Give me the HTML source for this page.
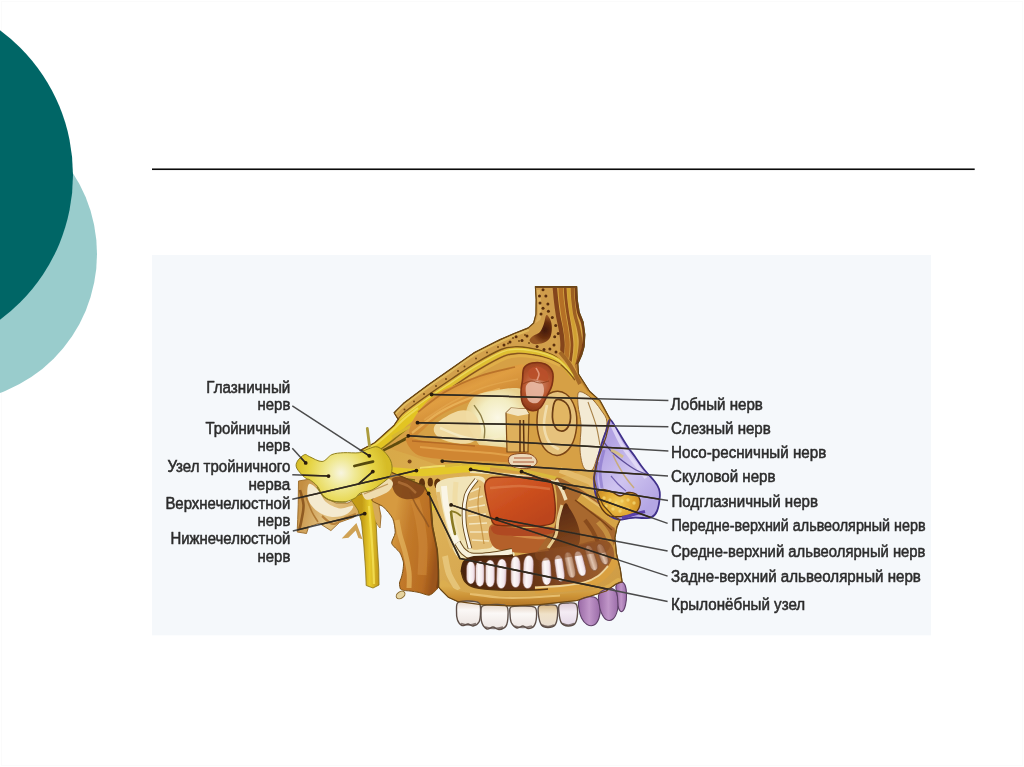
<!DOCTYPE html>
<html lang="ru">
<head>
<meta charset="utf-8">
<title></title>
<style>
html,body{margin:0;padding:0;background:#fff;}
body{width:1024px;height:767px;overflow:hidden;position:relative;font-family:"Liberation Sans",sans-serif;}
.slide{position:absolute;left:0;top:0;width:1024px;height:767px;background:#fff;overflow:hidden;}
.c1{position:absolute;left:-199.7px;top:105.8px;width:296.2px;height:296.2px;border-radius:50%;background:#99cccc;}
.c2{position:absolute;left:-287px;top:-5px;width:360px;height:360px;border-radius:50%;background:#006666;}
.frameline{position:absolute;left:1px;top:1px;right:1px;bottom:1px;border:1px solid #fbfbfb;}
.rule{position:absolute;left:152px;top:168.55px;width:822.6px;height:1.5px;background:#0c0c0c;}
.fig{position:absolute;left:0;top:0;width:1024px;height:767px;}
.fig text{font-family:"Liberation Sans",sans-serif;font-size:16.9px;fill:#2d2d2d;stroke:#2d2d2d;stroke-width:0.55px;stroke-linejoin:round;}
</style>
</head>
<body>
<div class="slide">
<div class="frameline"></div>
<div class="c1"></div>
<div class="c2"></div>
<svg class="fig" viewBox="0 0 1024 767" width="1024" height="767">
<defs>
<linearGradient id="gBone" gradientUnits="userSpaceOnUse" x1="420" y1="340" x2="600" y2="600">
<stop offset="0" stop-color="#d4a23a"/><stop offset="0.5" stop-color="#ddb158"/><stop offset="1" stop-color="#cf9c44"/>
</linearGradient>
<linearGradient id="gPetr" gradientUnits="userSpaceOnUse" x1="298" y1="500" x2="375" y2="520">
<stop offset="0" stop-color="#c48e42"/><stop offset="0.4" stop-color="#e2c282"/><stop offset="1" stop-color="#cf9a48"/>
</linearGradient>
<linearGradient id="gPter" gradientUnits="userSpaceOnUse" x1="392" y1="530" x2="440" y2="538">
<stop offset="0" stop-color="#d69a40"/><stop offset="0.35" stop-color="#c27a2a"/><stop offset="0.8" stop-color="#b86c22"/><stop offset="1" stop-color="#9a541a"/>
</linearGradient>
<linearGradient id="gNerveV" gradientUnits="userSpaceOnUse" x1="362" y1="540" x2="379" y2="540">
<stop offset="0" stop-color="#c49c18"/><stop offset="0.45" stop-color="#e8cc2e"/><stop offset="1" stop-color="#c29818"/>
</linearGradient>
<radialGradient id="gGang" gradientUnits="userSpaceOnUse" cx="341" cy="473" r="46">
<stop offset="0" stop-color="#f8f5e0"/><stop offset="0.3" stop-color="#f0e996"/><stop offset="0.7" stop-color="#e6d444"/><stop offset="1" stop-color="#d6bc28"/>
</radialGradient>
<radialGradient id="gCav" gradientUnits="userSpaceOnUse" cx="545" cy="330" r="14">
<stop offset="0" stop-color="#421806"/><stop offset="0.6" stop-color="#6a3010"/><stop offset="1" stop-color="#965624"/>
</radialGradient>
<linearGradient id="gMusc" gradientUnits="userSpaceOnUse" x1="440" y1="380" x2="455" y2="415">
<stop offset="0" stop-color="#cc8430"/><stop offset="0.5" stop-color="#e09e42"/><stop offset="1" stop-color="#d08c36"/>
</linearGradient>
<radialGradient id="gFat" gradientUnits="userSpaceOnUse" cx="498" cy="418" r="32">
<stop offset="0" stop-color="#fbf8e6"/><stop offset="0.6" stop-color="#f3edc2"/><stop offset="1" stop-color="#e8d08e"/>
</radialGradient>
<radialGradient id="gLacr" gradientUnits="userSpaceOnUse" cx="537" cy="385" r="26">
<stop offset="0" stop-color="#d08c70"/><stop offset="0.5" stop-color="#b8562e"/><stop offset="1" stop-color="#8e3a1a"/>
</radialGradient>
<linearGradient id="gMaxPale" gradientUnits="userSpaceOnUse" x1="445" y1="500" x2="487" y2="500">
<stop offset="0" stop-color="#e6c374"/><stop offset="0.4" stop-color="#eed9a0"/><stop offset="1" stop-color="#e8cc88"/>
</linearGradient>
<linearGradient id="gDark" gradientUnits="userSpaceOnUse" x1="560" y1="505" x2="590" y2="590">
<stop offset="0" stop-color="#562810"/><stop offset="0.5" stop-color="#84481e"/><stop offset="1" stop-color="#562a10"/>
</linearGradient>
<linearGradient id="gRed" gradientUnits="userSpaceOnUse" x1="500" y1="477" x2="530" y2="528">
<stop offset="0" stop-color="#d2602c"/><stop offset="0.5" stop-color="#cb4e1e"/><stop offset="1" stop-color="#bb441c"/>
</linearGradient>
<linearGradient id="gRoot" x1="0" y1="0" x2="1" y2="0">
<stop offset="0" stop-color="#e2cccc"/><stop offset="0.35" stop-color="#fcf8f8"/><stop offset="0.75" stop-color="#f4e8ec"/><stop offset="1" stop-color="#d8bcc8"/>
</linearGradient>
<linearGradient id="gAlv" gradientUnits="userSpaceOnUse" x1="500" y1="586" x2="500" y2="607">
<stop offset="0" stop-color="#dcae50"/><stop offset="0.5" stop-color="#cc9236"/><stop offset="1" stop-color="#b07226"/>
</linearGradient>
<linearGradient id="gCrown" x1="0" y1="0" x2="0" y2="1">
<stop offset="0" stop-color="#e6d6c8"/><stop offset="0.35" stop-color="#fbf8f6"/><stop offset="1" stop-color="#ece4e0"/>
</linearGradient>
<linearGradient id="gPCrown" x1="0" y1="0" x2="1" y2="0">
<stop offset="0" stop-color="#9a6aa6"/><stop offset="0.5" stop-color="#c096c8"/><stop offset="1" stop-color="#9a6ca8"/>
</linearGradient>
<linearGradient id="gNose" gradientUnits="userSpaceOnUse" x1="600" y1="450" x2="655" y2="500">
<stop offset="0" stop-color="#b2a2e2"/><stop offset="0.5" stop-color="#cfc4f0"/><stop offset="1" stop-color="#b4a6e4"/>
</linearGradient>
<radialGradient id="gFatY" gradientUnits="userSpaceOnUse" cx="618" cy="503" r="24">
<stop offset="0" stop-color="#f0cc58"/><stop offset="0.6" stop-color="#e0a630"/><stop offset="1" stop-color="#c88a24"/>
</radialGradient>
<linearGradient id="gWin" gradientUnits="userSpaceOnUse" x1="462" y1="570" x2="614" y2="555">
<stop offset="0" stop-color="#4a240e"/><stop offset="0.45" stop-color="#663416"/><stop offset="0.7" stop-color="#8a4e26"/><stop offset="1" stop-color="#a06230"/>
</linearGradient>
<linearGradient id="gRootB" x1="0" y1="0" x2="1" y2="0">
<stop offset="0" stop-color="#a87858"/><stop offset="0.45" stop-color="#e0c4b0"/><stop offset="1" stop-color="#b08060"/>
</linearGradient>
<linearGradient id="gCrownB" x1="0" y1="0" x2="0" y2="1">
<stop offset="0" stop-color="#d8b888"/><stop offset="0.4" stop-color="#f0e2c8"/><stop offset="1" stop-color="#e8dcd0"/>
</linearGradient>
<linearGradient id="gCrownL" x1="0" y1="0" x2="0" y2="1">
<stop offset="0" stop-color="#dcc8d4"/><stop offset="0.4" stop-color="#f4ecf4"/><stop offset="1" stop-color="#e4d8e6"/>
</linearGradient>

<filter id="soft" x="-5%" y="-5%" width="110%" height="110%"><feGaussianBlur stdDeviation="0.7"/></filter>
<filter id="lsoft" x="-5%" y="-5%" width="110%" height="110%"><feGaussianBlur stdDeviation="0.55"/></filter>
<filter id="tsoft" x="-5%" y="-20%" width="110%" height="140%"><feGaussianBlur stdDeviation="0.4"/></filter>
<clipPath id="clipSkull"><path d="M535.4,286.6L576.7,286.6L577.2,299.5L579.2,312.3L583.1,322.0L584.8,334.7L584.1,346.5L581.7,355.0L577.8,363.8L578.5,374.0L589.5,391.2L600.0,400.6L610.2,419.4L606.0,437.0L598.0,459.0L594.0,478.0L597.0,492.0L603.0,505.0L612.0,515.0L620.0,520.0L616.9,527.1L614.9,537.8L616.4,553.5L620.3,569.1L622.1,581.9L616.0,584.0L606.2,591.0L576.9,600.5L560.0,602.3L539.7,604.7L510.4,605.8L481.1,604.7L457.2,601.3L448.4,597.3L440.6,589.5L438.7,587.0L438.6,570.0L437.4,550.4L432.7,526.9L430.4,497.6L424.0,486.0L405.0,478.0L386.0,470.0L372.0,452.0L360.0,450.6L374.7,442.8L394.2,425.2L398.1,419.3L394.1,412.7L403.5,403.3L426.9,385.7L450.4,369.3L473.8,352.9L500.0,339.6L514.7,333.3L528.3,327.9L533.7,323.0L536.0,314.2L536.2,299.5Z"/></clipPath>
<clipPath id="clipInk"><path d="M535.4,286.6L576.7,286.6L577.2,299.5L579.2,312.3L583.1,322.0L584.8,334.7L584.1,346.5L581.7,355.0L577.8,363.8L578.5,374.0L589.5,391.2L600.0,400.6L610.2,419.4L606.0,437.0L598.0,459.0L594.0,478.0L597.0,492.0L603.0,505.0L612.0,515.0L620.0,520.0L616.9,527.1L614.9,537.8L616.4,553.5L620.3,569.1L622.1,581.9L616.0,584.0L606.2,591.0L576.9,600.5L560.0,602.3L539.7,604.7L510.4,605.8L481.1,604.7L457.2,601.3L448.4,597.3L440.6,589.5L438.7,587.0L438.6,570.0L437.4,550.4L432.7,526.9L430.4,497.6L424.0,486.0L405.0,478.0L386.0,470.0L372.0,452.0L360.0,450.6L374.7,442.8L394.2,425.2L398.1,419.3L394.1,412.7L403.5,403.3L426.9,385.7L450.4,369.3L473.8,352.9L500.0,339.6L514.7,333.3L528.3,327.9L533.7,323.0L536.0,314.2L536.2,299.5Z M296.7,468.0C295.5,465.3 296.2,463.2 297.5,461.0C298.8,458.8 302.6,455.3 304.6,454.6C306.6,453.9 306.5,455.5 309.4,456.6C312.3,457.8 318.4,461.8 322.1,461.5C325.9,461.2 328.3,456.1 331.9,454.6C335.5,453.1 339.1,453.0 343.7,452.7C348.3,452.4 355.2,453.3 359.3,452.7C363.4,452.1 364.9,449.9 368.0,449.0C371.1,448.1 374.7,445.8 378.0,447.0C381.3,448.2 385.7,452.8 388.0,456.0C390.3,459.2 391.7,462.7 392.0,466.0C392.3,469.3 391.8,473.0 390.0,476.0C388.2,479.0 384.0,481.7 381.0,484.0C378.0,486.3 375.4,488.5 372.0,490.0C368.6,491.5 363.1,491.7 360.3,493.0C357.5,494.3 357.8,496.4 355.4,497.8C352.9,499.2 349.2,501.1 345.6,501.7C342.0,502.3 337.5,502.0 333.9,501.2C330.3,500.4 326.9,499.3 324.1,496.8C321.3,494.3 319.6,488.9 317.3,486.1C315.0,483.3 312.5,481.7 310.4,480.2C308.3,478.7 306.9,479.3 304.6,477.3C302.3,475.3 297.9,470.7 296.7,468.0Z M609.9,419.7C611.5,419.4 613.1,423.7 616.0,428.0C618.9,432.3 623.8,440.9 627.0,445.7C630.2,450.5 632.5,453.2 635.2,457.0C637.9,460.8 640.0,464.4 643.3,468.5C646.5,472.6 652.1,478.1 654.7,481.5C657.3,484.9 658.1,486.4 659.0,489.0C659.9,491.6 660.1,493.4 659.8,497.0C659.5,500.6 658.5,507.5 657.1,510.9C655.7,514.3 653.8,516.2 651.4,517.4C649.0,518.6 645.7,518.0 643.0,518.0C640.3,518.0 637.8,517.5 635.1,517.6C632.4,517.7 629.7,518.2 627.0,518.5C624.3,518.8 621.7,519.9 618.9,519.5C616.1,519.1 613.0,518.2 610.0,516.0C607.0,513.8 603.4,509.7 601.0,506.0C598.6,502.3 596.6,497.7 595.5,494.0C594.4,490.3 594.4,487.2 594.2,484.0C594.0,480.8 593.8,479.2 594.4,475.0C595.0,470.8 596.3,464.4 597.7,458.7C599.1,453.0 601.1,445.6 602.6,440.8C604.1,436.0 605.3,433.5 606.5,430.0C607.7,426.5 608.3,420.0 609.9,419.7Z M298.5,481.0L310.0,479.0L320.0,488.0L326.0,498.0L336.0,503.0L348.0,503.0L357.0,498.0L364.0,490.0L374.0,492.0L384.0,498.0L379.0,506.0L381.0,516.0L380.0,528.0L374.0,520.0L371.0,510.0L362.0,512.0L353.4,517.4L339.7,522.3L330.9,530.6L319.2,523.2L308.5,527.1L306.5,533.5L297.2,532.0L297.7,519.3L298.2,504.7Z M371.7,500.0C371.6,498.2 380.0,493.9 383.0,492.0C386.0,490.1 393.6,485.6 397.0,484.0C400.4,482.4 408.1,478.7 412.0,478.0C415.9,477.3 426.0,477.5 430.0,478.0C434.0,478.5 444.0,479.4 446.0,482.0C448.0,484.6 447.2,495.6 447.0,500.0C446.8,504.4 444.7,514.8 444.0,520.0C443.3,525.2 441.5,539.2 441.0,545.0C440.5,550.8 439.8,565.2 439.5,570.0C439.2,574.8 439.3,583.5 438.7,586.0C438.1,588.5 435.8,590.4 434.7,591.5C433.6,592.6 430.7,595.1 428.9,595.2C427.1,595.3 421.3,593.0 419.1,592.5C416.9,592.0 411.7,591.2 410.0,591.0C408.3,590.8 405.5,590.7 404.4,590.5C403.3,590.3 401.1,589.9 400.5,589.0C399.9,588.1 399.4,584.4 399.5,583.0C399.6,581.6 401.1,578.5 401.5,577.0C401.9,575.5 402.8,571.7 403.0,570.0C403.2,568.3 403.8,564.1 403.4,562.1C403.0,560.1 401.3,554.9 399.9,552.7C398.5,550.5 392.2,545.6 391.7,543.3C391.2,541.0 395.1,535.7 395.2,532.8C395.3,529.9 394.2,521.7 392.8,518.7C391.4,515.7 386.0,509.2 383.5,507.0C381.0,504.8 371.8,501.8 371.7,500.0Z M359,500 L380,500 L380,588 L364,588 Z"/></clipPath>
<clipPath id="clipFig"><rect x="152" y="255" width="779" height="380.3"/></clipPath>
</defs>
<rect x="152" y="168.45" width="822.7" height="1.6" fill="#0a0a0a"/>
<rect x="152" y="255" width="779" height="380.3" fill="#f5f8fb"/>
<g clip-path="url(#clipFig)">
<g filter="url(#soft)">
<path d="M298.5,481.0L310.0,479.0L320.0,488.0L326.0,498.0L336.0,503.0L348.0,503.0L357.0,498.0L364.0,490.0L374.0,492.0L384.0,498.0L379.0,506.0L381.0,516.0L380.0,528.0L374.0,520.0L371.0,510.0L362.0,512.0L353.4,517.4L339.7,522.3L330.9,530.6L319.2,523.2L308.5,527.1L306.5,533.5L297.2,532.0L297.7,519.3L298.2,504.7Z" fill="url(#gPetr)" stroke="#9a6a28" stroke-width="0.9"/>
<path d="M309.0,484.0C310.8,482.7 316.2,488.0 319.0,491.0C321.8,494.0 322.5,499.1 326.0,502.0C329.5,504.9 335.5,507.8 340.0,508.5C344.5,509.2 351.8,505.1 353.0,506.0C354.2,506.9 350.5,512.2 347.0,514.0C343.5,515.8 337.0,517.5 332.0,517.0C327.0,516.5 321.0,514.0 317.0,511.0C313.0,508.0 309.3,503.5 308.0,499.0C306.7,494.5 307.2,485.3 309.0,484.0Z" fill="#f4ead0"/>
<path d="M300.0,490.0C300.6,492.5 303.2,500.0 303.5,505.0C303.8,510.0 302.2,516.0 301.5,520.0C300.8,524.0 299.8,527.5 299.5,529.0" fill="none" stroke="#8f5a20" stroke-width="2.6"/>
<path d="M306.0,497.0C307.0,499.5 310.0,507.8 312.0,512.0C314.0,516.2 317.0,520.3 318.0,522.0" fill="none" stroke="#b07a34" stroke-width="1.6"/>
<path d="M322.0,516.0C323.8,517.3 329.2,523.7 333.0,524.0C336.8,524.3 341.2,519.7 345.0,518.0C348.8,516.3 354.2,514.7 356.0,514.0" fill="none" stroke="#b8823a" stroke-width="2.2"/>
<path d="M355.0,500.0C356.7,499.3 361.5,496.2 365.0,496.0C368.5,495.8 373.5,497.3 376.0,499.0C378.5,500.7 379.3,504.8 380.0,506.0" fill="none" stroke="#c8903c" stroke-width="4"/>
<ellipse cx="372" cy="497" rx="4" ry="3" fill="#7a4216"/>
<path d="M350.0,498.0L362.0,494.0L376.0,492.0L377.0,505.0L376.0,520.0L377.2,545.0L378.8,570.0L379.0,585.0L373.0,588.0L366.2,585.5L365.6,570.0L363.8,545.0L361.5,522.0L358.0,510.0Z" fill="url(#gNerveV)" stroke="#8a7214" stroke-width="0.8"/>
<path d="M369.0,506.0C369.3,510.0 370.3,521.0 371.0,530.0C371.7,539.0 372.5,551.0 373.0,560.0C373.5,569.0 373.8,580.0 374.0,584.0" fill="none" stroke="#f3de52" stroke-width="2.2" opacity="0.9"/>
<path d="M341.7,538.6L356.4,523.0L362.5,539.2L358.4,538.0L355.7,530.5L348.5,537.8Z" fill="#cfa254"/>
<path d="M372.0,502.0L378.0,504.0L380.0,518.0L379.6,528.0L375.5,521.0Z" fill="#d6aa58"/>
<path d="M376.0,462.0L400.0,466.0L416.0,476.0L404.0,490.0L384.0,490.0L374.0,480.0Z" fill="#c48a38"/>
<path d="M371.7,500.0C371.6,498.2 380.0,493.9 383.0,492.0C386.0,490.1 393.6,485.6 397.0,484.0C400.4,482.4 408.1,478.7 412.0,478.0C415.9,477.3 426.0,477.5 430.0,478.0C434.0,478.5 444.0,479.4 446.0,482.0C448.0,484.6 447.2,495.6 447.0,500.0C446.8,504.4 444.7,514.8 444.0,520.0C443.3,525.2 441.5,539.2 441.0,545.0C440.5,550.8 439.8,565.2 439.5,570.0C439.2,574.8 439.3,583.5 438.7,586.0C438.1,588.5 435.8,590.4 434.7,591.5C433.6,592.6 430.7,595.1 428.9,595.2C427.1,595.3 421.3,593.0 419.1,592.5C416.9,592.0 411.7,591.2 410.0,591.0C408.3,590.8 405.5,590.7 404.4,590.5C403.3,590.3 401.1,589.9 400.5,589.0C399.9,588.1 399.4,584.4 399.5,583.0C399.6,581.6 401.1,578.5 401.5,577.0C401.9,575.5 402.8,571.7 403.0,570.0C403.2,568.3 403.8,564.1 403.4,562.1C403.0,560.1 401.3,554.9 399.9,552.7C398.5,550.5 392.2,545.6 391.7,543.3C391.2,541.0 395.1,535.7 395.2,532.8C395.3,529.9 394.2,521.7 392.8,518.7C391.4,515.7 386.0,509.2 383.5,507.0C381.0,504.8 371.8,501.8 371.7,500.0Z" fill="url(#gPter)" stroke="#7a5018" stroke-width="1.0"/>
<path d="M397.0,520.0C397.5,522.5 398.7,529.7 400.0,535.0C401.3,540.3 403.5,545.8 405.0,552.0C406.5,558.2 408.3,566.0 409.0,572.0C409.7,578.0 409.0,585.3 409.0,588.0" fill="none" stroke="#e2b25c" stroke-width="5" opacity="0.75"/>
<path d="M415.0,500.0C415.8,503.3 418.7,512.5 420.0,520.0C421.3,527.5 422.7,535.8 423.0,545.0C423.3,554.2 422.2,570.0 422.0,575.0" fill="none" stroke="#cf8a38" stroke-width="9" opacity="0.6"/>
<path d="M430.4,497.6C430.8,502.5 431.5,518.1 432.7,526.9C433.9,535.7 436.4,542.4 437.4,550.4C438.4,558.4 438.6,568.7 438.6,575.0C438.6,581.3 437.7,585.8 437.5,588.0" fill="none" stroke="#7c4214" stroke-width="2.4"/>
<path d="M410.0,492.0C411.0,494.2 413.7,500.7 416.0,505.0C418.3,509.3 421.8,514.3 424.0,518.0C426.2,521.7 428.2,525.5 429.0,527.0" fill="none" stroke="#8f5520" stroke-width="1.6" opacity="0.8"/>
<path d="M392.0,479.0C393.7,476.2 400.3,476.7 405.0,476.5C409.7,476.3 416.7,476.1 420.0,478.0C423.3,479.9 425.2,484.8 425.0,488.0C424.8,491.2 422.3,495.2 419.0,497.0C415.7,498.8 409.0,499.7 405.0,499.0C401.0,498.3 397.2,496.3 395.0,493.0C392.8,489.7 390.3,481.8 392.0,479.0Z" fill="#7e451a" opacity="0.9"/>
<path d="M398.0,482.0C399.7,482.7 405.0,484.2 408.0,486.0C411.0,487.8 414.7,491.8 416.0,493.0" fill="none" stroke="#b07038" stroke-width="2.5" opacity="0.8"/>
<path d="M362.0,489.0C363.3,486.1 369.8,483.8 374.0,482.0C378.2,480.2 383.8,478.3 387.0,478.5C390.2,478.7 392.7,480.9 393.0,483.0C393.3,485.1 391.7,488.7 389.0,491.0C386.3,493.3 380.8,495.6 377.0,497.0C373.2,498.4 368.5,500.8 366.0,499.5C363.5,498.2 360.7,491.9 362.0,489.0Z" fill="#efdcae"/>
<path d="M364.0,494.0C366.0,493.2 372.0,490.7 376.0,489.0C380.0,487.3 386.0,484.8 388.0,484.0" fill="none" stroke="#b88a48" stroke-width="1.2" opacity="0.8"/>
<ellipse cx="400.6" cy="595" rx="4.8" ry="3.3" fill="#e6d4a0" stroke="#8a6a30" stroke-width="1" transform="rotate(-35 400.6 595)"/>
<path d="M535.4,286.6L576.7,286.6L577.2,299.5L579.2,312.3L583.1,322.0L584.8,334.7L584.1,346.5L581.7,355.0L577.8,363.8L578.5,374.0L589.5,391.2L600.0,400.6L610.2,419.4L606.0,437.0L598.0,459.0L594.0,478.0L597.0,492.0L603.0,505.0L612.0,515.0L620.0,520.0L616.9,527.1L614.9,537.8L616.4,553.5L620.3,569.1L622.1,581.9L616.0,584.0L606.2,591.0L576.9,600.5L560.0,602.3L539.7,604.7L510.4,605.8L481.1,604.7L457.2,601.3L448.4,597.3L440.6,589.5L438.7,587.0L438.6,570.0L437.4,550.4L432.7,526.9L430.4,497.6L424.0,486.0L405.0,478.0L386.0,470.0L372.0,452.0L360.0,450.6L374.7,442.8L394.2,425.2L398.1,419.3L394.1,412.7L403.5,403.3L426.9,385.7L450.4,369.3L473.8,352.9L500.0,339.6L514.7,333.3L528.3,327.9L533.7,323.0L536.0,314.2L536.2,299.5Z" fill="url(#gBone)" stroke="#7a5418" stroke-width="1.0"/>
<g clip-path="url(#clipSkull)">
<path d="M535.0,286.0L556.0,286.0L557.0,300.0L559.0,318.0L562.0,335.0L562.0,358.0L540.0,356.0L500.0,352.0L500.0,338.0L515.0,333.0L529.0,327.0L535.0,318.0Z" fill="#cf9c4c"/>
<path d="M538.0,290.0C538.2,292.5 539.3,300.3 539.5,305.0C539.7,309.7 539.9,314.3 539.0,318.0C538.1,321.7 536.8,324.5 534.0,327.0C531.2,329.5 526.8,330.8 522.0,333.0C517.2,335.2 507.8,338.8 505.0,340.0" fill="none" stroke="#e0b666" stroke-width="3.5" opacity="0.8"/>
<path d="M554.7,286.0C554.9,288.3 555.5,295.2 556.0,300.0C556.5,304.8 557.2,310.0 558.0,315.0C558.8,320.0 560.2,325.0 561.0,330.0C561.8,335.0 562.6,340.0 562.6,345.0C562.6,350.0 562.1,355.5 561.0,360.0C559.9,364.5 556.8,370.0 556.0,372.0" fill="none" stroke="#84441a" stroke-width="4.4"/>
<path d="M560.6,286.0C560.8,288.3 561.0,295.2 561.5,300.0C562.0,304.8 562.8,310.0 563.5,315.0C564.2,320.0 565.3,325.0 566.0,330.0C566.7,335.0 567.5,340.0 567.5,345.0C567.5,350.0 566.9,355.5 566.0,360.0C565.1,364.5 562.7,370.0 562.0,372.0" fill="none" stroke="#b47028" stroke-width="4.6"/>
<path d="M565.0,286.0C565.2,288.3 565.5,295.2 566.0,300.0C566.5,304.8 567.2,310.0 568.0,315.0C568.8,320.0 569.8,325.0 570.5,330.0C571.2,335.0 572.0,340.0 572.0,345.0C572.0,350.0 571.3,355.5 570.5,360.0C569.7,364.5 567.6,370.0 567.0,372.0" fill="none" stroke="#8f4e1c" stroke-width="2.8"/>
<path d="M568.4,286.0C568.6,288.3 568.9,295.2 569.4,300.0C569.9,304.8 570.6,310.0 571.5,315.0C572.4,320.0 573.8,325.0 574.5,330.0C575.2,335.0 576.0,340.0 576.0,345.0C576.0,350.0 575.3,355.5 574.5,360.0C573.7,364.5 571.6,370.0 571.0,372.0" fill="none" stroke="#d0a030" stroke-width="2.8"/>
<path d="M572.3,286.0C572.4,288.3 572.5,295.2 573.0,300.0C573.5,304.8 574.1,310.3 575.0,315.0C575.9,319.7 577.6,323.5 578.5,328.0C579.4,332.5 580.5,337.0 580.5,342.0C580.5,347.0 579.4,353.3 578.5,358.0C577.6,362.7 575.6,368.0 575.0,370.0" fill="none" stroke="#9c5e20" stroke-width="3.4"/>
<path d="M575.8,286.0C575.9,288.3 576.0,295.5 576.5,300.0C577.0,304.5 577.5,309.2 578.5,313.0C579.5,316.8 581.4,319.3 582.3,323.0C583.2,326.7 583.9,331.0 584.0,335.0C584.1,339.0 583.7,343.3 583.0,347.0C582.3,350.7 581.0,354.0 580.0,357.0C579.0,360.0 577.5,363.7 577.0,365.0" fill="none" stroke="#7a3e14" stroke-width="2.6"/>
<path d="M535,287.2 L577,287.2" fill="none" stroke="#7a4a1c" stroke-width="1.6"/>
<path d="M394.0,414.0L404.0,404.0L427.0,386.5L450.4,370.0L473.8,354.0L500.0,341.0L530.0,333.0L548.0,340.0L562.0,352.0L575.0,366.0L580.0,380.0L592.0,396.0L606.0,418.0L600.0,445.0L590.0,468.0L560.0,478.0L520.0,474.0L480.0,470.0L440.0,466.0L410.0,455.0L385.0,447.0L360.0,452.0L372.0,444.0L397.0,424.0Z" fill="#d6a044"/>
<path d="M394.1,412.7L403.5,403.3L426.9,385.7L450.4,369.3L473.8,352.9L500.0,339.6L514.7,333.3L528.3,327.9L540.0,320.0L553.5,320.0L556.5,335.0L558.5,350.0L556.0,356.8L545.0,351.8L530.0,348.2L516.0,346.8L501.0,349.5L475.0,363.5L451.5,379.0L428.0,395.0L405.0,411.8L397.5,419.8Z" fill="#d2a04c"/>
<path d="M394.7,414.7C396.3,413.1 398.6,409.8 404.1,405.3C409.6,400.8 419.7,393.4 427.5,387.7C435.3,382.0 443.2,376.8 451.0,371.3C458.8,365.8 466.1,359.8 474.4,354.9C482.7,349.9 493.8,344.9 500.6,341.6C507.4,338.3 510.6,337.2 515.3,335.3C520.0,333.4 526.6,330.8 528.9,329.9" fill="none" stroke="#e4c062" stroke-width="2.2" opacity="0.8"/>
<circle cx="404.5" cy="409.5" r="1.0" fill="#734a16"/>
<circle cx="414.0" cy="401.5" r="1.0" fill="#734a16"/>
<circle cx="424.0" cy="394.0" r="1.0" fill="#734a16"/>
<circle cx="436.0" cy="386.0" r="1.0" fill="#734a16"/>
<circle cx="446.0" cy="379.0" r="1.0" fill="#734a16"/>
<circle cx="464.5" cy="366.5" r="1.0" fill="#734a16"/>
<circle cx="476.0" cy="358.5" r="1.0" fill="#734a16"/>
<circle cx="487.0" cy="352.5" r="1.0" fill="#734a16"/>
<circle cx="498.0" cy="347.0" r="1.0" fill="#734a16"/>
<circle cx="458.0" cy="371.0" r="1.0" fill="#734a16"/>
<circle cx="508.0" cy="343.5" r="1.0" fill="#734a16"/>
<circle cx="519.0" cy="341.0" r="1.0" fill="#734a16"/>
<circle cx="529.0" cy="343.0" r="1.0" fill="#734a16"/>
<circle cx="513.0" cy="338.0" r="1.0" fill="#734a16"/>
<circle cx="525.0" cy="335.0" r="1.0" fill="#734a16"/>
<path d="M397.5,419.8C398.8,418.5 399.9,415.9 405.0,411.8C410.1,407.7 420.2,400.5 428.0,395.0C435.8,389.5 443.7,384.2 451.5,379.0C459.3,373.8 466.8,368.4 475.0,363.5C483.2,358.6 494.2,352.3 501.0,349.5C507.8,346.7 511.2,347.0 516.0,346.8C520.8,346.6 525.2,347.4 530.0,348.2C534.8,349.0 540.7,350.4 545.0,351.8C549.3,353.2 552.8,354.8 556.0,356.8C559.2,358.8 561.3,361.2 564.0,364.0C566.7,366.8 570.7,371.9 572.0,373.5" fill="none" stroke="#7c5216" stroke-width="1.4"/>
<path d="M399.1,423.2C400.4,421.9 401.5,419.3 406.6,415.2C411.7,411.1 421.9,403.9 429.6,398.4C437.4,392.9 445.3,387.6 453.1,382.4C460.9,377.1 468.4,371.8 476.6,366.9C484.9,362.0 495.8,355.7 502.6,352.9C509.4,350.1 512.8,350.4 517.6,350.2C522.4,350.0 526.8,350.8 531.6,351.6C536.4,352.4 542.3,353.8 546.6,355.2C550.9,356.6 554.4,358.2 557.6,360.2C560.8,362.2 562.9,364.6 565.6,367.4C568.3,370.2 572.3,375.3 573.6,376.9" fill="none" stroke="#dfc030" stroke-width="4.8"/>
<path d="M398.7,422.2C399.9,420.9 401.1,418.3 406.2,414.2C411.3,410.1 421.4,402.9 429.2,397.4C436.9,391.9 444.9,386.6 452.7,381.4C460.5,376.1 467.9,370.8 476.2,365.9C484.4,361.0 495.4,354.7 502.2,351.9C509.0,349.1 512.4,349.4 517.2,349.2C522.0,349.0 526.4,349.8 531.2,350.6C536.0,351.4 541.9,352.8 546.2,354.2C550.5,355.6 554.0,357.2 557.2,359.2C560.4,361.2 562.5,363.6 565.2,366.4C567.9,369.2 571.9,374.3 573.2,375.9" fill="none" stroke="#efdc6a" stroke-width="1.4" opacity="0.8"/>
<path d="M400.5,426.4C401.8,425.1 402.9,422.5 408.0,418.4C413.1,414.3 423.2,407.1 431.0,401.6C438.8,396.1 446.7,390.9 454.5,385.6C462.3,380.4 469.8,375.0 478.0,370.1C486.2,365.2 497.2,358.9 504.0,356.1C510.8,353.3 514.2,353.6 519.0,353.4C523.8,353.2 528.2,354.0 533.0,354.8C537.8,355.6 543.7,357.0 548.0,358.4C552.3,359.8 555.8,361.4 559.0,363.4C562.2,365.4 564.3,367.8 567.0,370.6C569.7,373.4 573.7,378.5 575.0,380.1" fill="none" stroke="#86561a" stroke-width="1.4"/>
<path d="M401.7,428.8C402.9,427.5 404.1,424.9 409.2,420.8C414.3,416.7 424.4,409.5 432.2,404.0C439.9,398.5 447.9,393.2 455.7,388.0C463.5,382.8 470.9,377.4 479.2,372.5C487.4,367.6 498.4,361.3 505.2,358.5C512.0,355.7 515.4,356.0 520.2,355.8C525.0,355.6 529.4,356.4 534.2,357.2C539.0,358.0 544.9,359.4 549.2,360.8C553.5,362.2 558.4,365.0 560.2,365.8" fill="none" stroke="#e2b24a" stroke-width="2.8" opacity="0.85"/>
<path d="M394.1,412.7C395.7,411.1 398.0,407.8 403.5,403.3C409.0,398.8 419.1,391.4 426.9,385.7C434.7,380.0 442.6,374.8 450.4,369.3C458.2,363.8 465.5,357.8 473.8,352.9C482.1,347.9 493.2,342.9 500.0,339.6C506.8,336.3 510.0,335.2 514.7,333.3C519.4,331.4 526.0,328.8 528.3,327.9" fill="none" stroke="#6a4a14" stroke-width="1.2"/>
<path d="M398.5,420.0C397.8,419.0 394.7,415.6 394.3,414.0C393.9,412.4 395.7,411.1 396.0,410.5" fill="none" stroke="#6a4a14" stroke-width="1.4"/>
<path d="M362.0,454.0C364.3,452.8 371.3,449.7 376.0,446.5C380.7,443.3 385.7,438.8 390.0,435.0C394.3,431.2 397.7,427.7 402.0,424.0C406.3,420.3 411.0,416.8 416.0,413.0C421.0,409.2 426.3,405.4 432.0,401.5C437.7,397.6 447.0,391.5 450.0,389.5" fill="none" stroke="#e2c424" stroke-width="9" stroke-linecap="round"/>
<path d="M364.0,451.0C366.3,449.6 373.3,445.9 378.0,442.5C382.7,439.1 387.7,434.4 392.0,430.5C396.3,426.6 399.7,422.8 404.0,419.0C408.3,415.2 415.7,409.8 418.0,408.0" fill="none" stroke="#f0dc58" stroke-width="2.0" opacity="0.9"/>
<path d="M370.0,455.5C372.3,454.1 379.5,450.1 384.0,447.0C388.5,443.9 393.0,440.2 397.0,437.0C401.0,433.8 406.2,429.5 408.0,428.0" fill="none" stroke="#8a7416" stroke-width="1.4"/>
<path d="M384.0,450.0C386.0,449.0 392.2,446.0 396.0,444.0C399.8,442.0 405.2,439.0 407.0,438.0" fill="none" stroke="#5e4c10" stroke-width="2.6" stroke-linecap="round"/>
<path d="M392.0,437.0C394.0,435.8 399.8,432.3 404.0,430.0C408.2,427.7 414.8,424.2 417.0,423.0" fill="none" stroke="#d8b830" stroke-width="3"/>
<path d="M413.0,438.0C418.0,436.1 429.7,422.1 440.0,415.7C450.3,409.2 466.2,403.4 475.0,399.3C483.8,395.2 485.3,392.8 493.0,391.0C500.7,389.2 515.8,392.7 521.0,388.5C526.2,384.3 526.3,369.6 524.5,366.0C522.7,362.4 518.2,365.2 510.0,367.0C501.8,368.8 486.7,372.8 475.0,377.0C463.3,381.2 448.8,387.0 440.0,392.0C431.2,397.0 427.0,401.2 422.0,407.0C417.0,412.8 411.5,421.8 410.0,427.0C408.5,432.2 408.0,439.9 413.0,438.0Z" fill="url(#gMusc)"/>
<path d="M412.0,433.0C416.7,429.5 430.3,417.8 440.0,412.0C449.7,406.2 460.0,401.8 470.0,398.0C480.0,394.2 495.0,390.5 500.0,389.0" fill="none" stroke="#eab45a" stroke-width="2.4" opacity="0.85"/>
<path d="M418.0,412.0C422.5,408.7 434.7,398.0 445.0,392.0C455.3,386.0 468.3,380.2 480.0,376.0C491.7,371.8 509.2,368.5 515.0,367.0" fill="none" stroke="#b26a26" stroke-width="1.8" opacity="0.8"/>
<path d="M424.0,420.0C428.7,417.0 441.8,407.5 452.0,402.0C462.2,396.5 474.0,390.8 485.0,387.0C496.0,383.2 512.5,380.3 518.0,379.0" fill="none" stroke="#e4a850" stroke-width="1.6" opacity="0.7"/>
<path d="M474.0,397.0C478.8,393.1 487.2,391.8 495.0,390.5C502.8,389.2 516.0,386.6 521.0,389.0C526.0,391.4 524.3,399.0 525.0,405.0C525.7,411.0 526.0,418.7 525.0,425.0C524.0,431.3 523.2,438.8 519.0,443.0C514.8,447.2 506.0,449.2 500.0,450.0C494.0,450.8 487.7,450.8 483.0,448.0C478.3,445.2 474.8,438.7 472.0,433.0C469.2,427.3 465.7,420.0 466.0,414.0C466.3,408.0 469.2,400.9 474.0,397.0Z" fill="url(#gFat)"/>
<path d="M436.0,424.0C439.7,420.0 451.7,412.7 458.0,411.0C464.3,409.3 470.2,410.5 474.0,414.0C477.8,417.5 481.7,427.2 481.0,432.0C480.3,436.8 475.2,441.3 470.0,443.0C464.8,444.7 455.7,443.3 450.0,442.0C444.3,440.7 438.3,438.0 436.0,435.0C433.7,432.0 432.3,428.0 436.0,424.0Z" fill="#f1dca4" opacity="0.95"/>
<path d="M474.0,405.1C475.2,406.9 479.2,411.9 481.0,415.7C482.8,419.5 484.1,423.9 484.6,428.0C485.1,432.1 484.1,438.0 484.0,440.0" fill="none" stroke="#8f8048" stroke-width="1.4"/>
<path d="M440.0,428.0C443.3,429.3 453.0,434.0 460.0,436.0C467.0,438.0 475.3,440.0 482.0,440.0C488.7,440.0 497.0,436.7 500.0,436.0" fill="none" stroke="#f6ecc8" stroke-width="2.5" opacity="0.8"/>
<path d="M406.0,438.0C407.5,435.8 418.5,440.2 425.0,441.0C431.5,441.8 436.2,442.3 445.0,443.0C453.8,443.7 467.5,444.2 478.0,445.0C488.5,445.8 499.3,446.7 508.0,448.0C516.7,449.3 526.3,450.5 530.0,453.0C533.7,455.5 534.2,461.5 530.0,463.0C525.8,464.5 513.7,462.3 505.0,462.0C496.3,461.7 488.8,461.5 478.0,461.0C467.2,460.5 450.3,460.2 440.0,459.0C429.7,457.8 421.7,457.5 416.0,454.0C410.3,450.5 404.5,440.2 406.0,438.0Z" fill="#d08632"/>
<path d="M420.0,447.0C425.0,447.5 438.3,449.0 450.0,450.0C461.7,451.0 478.3,451.8 490.0,453.0C501.7,454.2 515.0,456.3 520.0,457.0" fill="none" stroke="#e4a64e" stroke-width="2.0" opacity="0.85"/>
<path d="M412.0,441.0C416.7,441.3 429.5,442.2 440.0,443.0C450.5,443.8 469.2,445.5 475.0,446.0" fill="none" stroke="#a85e20" stroke-width="1.4" opacity="0.7"/>
<path d="M506.0,413.0L511.0,408.0L526.0,409.0L529.0,414.0L528.0,452.0L507.0,452.0Z" fill="#deb05c" stroke="#7a4a18" stroke-width="1.2"/>
<path d="M506.0,413.0L511.0,408.0L526.0,409.0L529.0,414.0L518.0,416.0Z" fill="#f3e6c4"/>
<path d="M520,420 L520,452 M523.5,420 L524,452" fill="none" stroke="#5e3210" stroke-width="1.5"/>
<path d="M510.0,456.0C511.8,454.4 516.3,453.7 520.0,453.5C523.7,453.3 529.2,453.6 532.0,455.0C534.8,456.4 537.3,459.8 537.0,462.0C536.7,464.2 533.5,467.0 530.0,468.0C526.5,469.0 519.5,468.8 516.0,468.0C512.5,467.2 510.0,465.0 509.0,463.0C508.0,461.0 508.2,457.6 510.0,456.0Z" fill="#ecd8b8" stroke="#8a4a20" stroke-width="1.0"/>
<path d="M514,458 L532,458 M513,462 L534,462 M516,465.5 L531,465.5" fill="none" stroke="#b05a38" stroke-width="1.0"/>
<path d="M553.0,392.0C557.2,390.7 562.3,391.3 566.0,394.0C569.7,396.7 573.2,402.3 575.0,408.0C576.8,413.7 577.2,421.7 576.5,428.0C575.8,434.3 573.8,441.5 571.0,446.0C568.2,450.5 563.8,454.0 560.0,455.0C556.2,456.0 551.3,454.5 548.0,452.0C544.7,449.5 541.8,445.3 540.0,440.0C538.2,434.7 536.8,426.3 537.0,420.0C537.2,413.7 538.3,406.7 541.0,402.0C543.7,397.3 548.8,393.3 553.0,392.0Z" fill="#e6c27c" stroke="#7a4414" stroke-width="1.5"/>
<path d="M556.0,400.0C558.2,398.3 563.6,400.5 566.0,403.0C568.4,405.5 570.2,411.0 570.5,415.0C570.8,419.0 569.6,424.3 568.0,427.0C566.4,429.7 563.2,431.2 561.0,431.0C558.8,430.8 555.9,429.0 554.5,426.0C553.1,423.0 552.2,417.3 552.5,413.0C552.8,408.7 553.8,401.7 556.0,400.0Z" fill="#e2b664" stroke="#6a3c12" stroke-width="1.7"/>
<path d="M547.0,405.0C546.5,408.3 543.7,418.8 544.0,425.0C544.3,431.2 546.5,437.9 549.0,442.0C551.5,446.1 557.3,448.2 559.0,449.5" fill="none" stroke="#f2e2b6" stroke-width="2.6" opacity="0.85"/>
<path d="M579.0,392.0C581.0,390.7 586.3,394.0 590.0,397.0C593.7,400.0 598.2,405.8 601.0,410.0C603.8,414.2 606.7,417.0 607.0,422.0C607.3,427.0 604.7,434.0 603.0,440.0C601.3,446.0 598.8,453.0 597.0,458.0C595.2,463.0 594.2,468.3 592.0,470.0C589.8,471.7 586.0,471.3 584.0,468.0C582.0,464.7 580.5,457.2 580.0,450.0C579.5,442.8 581.3,432.5 581.0,425.0C580.7,417.5 578.3,410.5 578.0,405.0C577.7,399.5 577.0,393.3 579.0,392.0Z" fill="#f3ead4" stroke="#9a6a30" stroke-width="1.0"/>
<path d="M588.0,402.0C589.3,405.8 594.0,417.8 596.0,425.0C598.0,432.2 599.3,441.7 600.0,445.0" fill="none" stroke="#a8824a" stroke-width="1.1"/>
<path d="M579.0,378.0C580.8,380.2 585.9,387.6 589.5,391.5C593.1,395.4 597.0,396.9 600.5,401.5C604.0,406.1 608.6,416.4 610.2,419.4" fill="none" stroke="#d39a3a" stroke-width="3.6"/>
<path d="M577.0,364.0C577.8,366.3 579.8,373.7 582.0,378.0C584.2,382.3 588.7,388.0 590.0,390.0" fill="none" stroke="#b87e30" stroke-width="5"/>
<path d="M560.0,352.0C561.3,353.7 565.7,358.7 568.0,362.0C570.3,365.3 572.0,368.3 574.0,372.0C576.0,375.7 579.0,382.0 580.0,384.0" fill="none" stroke="#9a5e22" stroke-width="4" opacity="0.85"/>
<path d="M524.0,368.0C525.6,365.2 528.5,363.7 532.0,363.0C535.5,362.3 541.6,362.5 545.0,364.0C548.4,365.5 551.3,368.5 552.5,372.0C553.7,375.5 552.9,381.0 552.0,385.0C551.1,389.0 549.0,392.2 547.0,396.0C545.0,399.8 542.7,405.6 540.0,408.0C537.3,410.4 533.8,411.2 531.0,410.5C528.2,409.8 524.7,407.1 523.0,404.0C521.3,400.9 521.1,396.0 521.0,392.0C520.9,388.0 522.0,384.0 522.5,380.0C523.0,376.0 522.4,370.8 524.0,368.0Z" fill="url(#gLacr)" stroke="#7e3212" stroke-width="1.6"/>
<path d="M526.0,386.0C527.0,382.8 531.2,381.3 534.0,381.0C536.8,380.7 540.9,381.8 542.5,384.0C544.1,386.2 544.4,390.8 543.5,394.0C542.6,397.2 539.6,402.0 537.0,403.0C534.4,404.0 529.8,402.8 528.0,400.0C526.2,397.2 525.0,389.2 526.0,386.0Z" fill="#e8b8a2" opacity="0.9"/>
<path d="M529.0,370.0C530.3,368.1 535.0,366.2 538.0,366.5C541.0,366.8 545.5,369.6 547.0,372.0C548.5,374.4 548.5,379.8 547.0,381.0C545.5,382.2 540.8,380.0 538.0,379.5C535.2,379.0 531.5,379.6 530.0,378.0C528.5,376.4 527.7,371.9 529.0,370.0Z" fill="#b8502a" opacity="0.95"/>
<path d="M536.0,368.0C536.5,369.0 538.8,372.0 539.0,374.0C539.2,376.0 537.3,379.0 537.0,380.0" fill="none" stroke="#eaa88c" stroke-width="1.6" opacity="0.8"/>
<path d="M523.0,384.0C524.3,383.5 528.2,381.2 531.0,381.0C533.8,380.8 537.0,383.0 540.0,383.0C543.0,383.0 547.5,381.3 549.0,381.0" fill="none" stroke="#8a3a18" stroke-width="1.0" opacity="0.8"/>
<path d="M546.5,315.0C547.7,314.5 549.9,318.5 550.8,321.0C551.7,323.5 552.0,327.1 551.8,330.0C551.6,332.9 551.0,336.3 549.5,338.5C548.0,340.7 545.6,342.1 543.0,343.0C540.4,343.9 536.2,344.4 534.0,344.0C531.8,343.6 529.7,341.8 529.5,340.5C529.3,339.2 531.2,337.4 533.0,336.0C534.8,334.6 538.2,334.0 540.0,332.0C541.8,330.0 542.7,326.8 543.8,324.0C544.9,321.2 545.3,315.5 546.5,315.0Z" fill="url(#gCav)"/>
<circle cx="543.0" cy="289.8" r="1.5" fill="#5a2e0e"/>
<circle cx="545.9" cy="296.1" r="1.5" fill="#5a2e0e"/>
<circle cx="547.9" cy="303.9" r="1.5" fill="#5a2e0e"/>
<circle cx="543.0" cy="308.3" r="1.5" fill="#5a2e0e"/>
<circle cx="548.4" cy="311.3" r="1.5" fill="#5a2e0e"/>
<circle cx="552.3" cy="317.6" r="1.5" fill="#5a2e0e"/>
<circle cx="555.7" cy="325.5" r="1.5" fill="#5a2e0e"/>
<circle cx="554.7" cy="336.7" r="1.5" fill="#5a2e0e"/>
<circle cx="558.2" cy="333.5" r="1.5" fill="#5a2e0e"/>
<circle cx="549.9" cy="348.9" r="1.5" fill="#5a2e0e"/>
<circle cx="544.0" cy="349.4" r="1.5" fill="#5a2e0e"/>
<circle cx="537.1" cy="346.5" r="1.5" fill="#5a2e0e"/>
<circle cx="522.0" cy="340.6" r="1.5" fill="#5a2e0e"/>
<circle cx="516.1" cy="336.7" r="1.5" fill="#5a2e0e"/>
<circle cx="539.5" cy="296.0" r="1.5" fill="#5a2e0e"/>
<circle cx="540.0" cy="303.0" r="1.5" fill="#5a2e0e"/>
<circle cx="541.0" cy="314.0" r="1.5" fill="#5a2e0e"/>
<circle cx="527.0" cy="336.0" r="1.5" fill="#5a2e0e"/>
<circle cx="510.0" cy="342.0" r="1.5" fill="#5a2e0e"/>
<circle cx="504.0" cy="345.0" r="1.5" fill="#5a2e0e"/>
<circle cx="554.0" cy="345.0" r="1.5" fill="#5a2e0e"/>
<circle cx="556.0" cy="352.0" r="1.5" fill="#5a2e0e"/>
<path d="M383.0,470.0C385.8,470.2 393.8,471.1 400.0,471.5C406.2,471.9 412.5,472.7 420.0,472.5C427.5,472.3 436.7,471.2 445.0,470.5C453.3,469.8 462.5,468.6 470.0,468.5C477.5,468.4 486.7,469.8 490.0,470.0" fill="none" stroke="#e4c82c" stroke-width="7.5"/>
<path d="M384.0,476.0C386.7,476.3 394.8,477.3 400.0,478.0C405.2,478.7 412.5,479.7 415.0,480.0" fill="none" stroke="#7a6a14" stroke-width="1.6"/>
<path d="M420.0,468.0C423.3,467.7 433.0,466.5 440.0,466.0C447.0,465.5 458.3,465.2 462.0,465.0" fill="none" stroke="#f2e06a" stroke-width="1.8" opacity="0.9"/>
<path d="M445.0,466.0C449.2,465.7 460.8,463.8 470.0,464.0C479.2,464.2 490.0,465.7 500.0,467.0C510.0,468.3 520.0,470.0 530.0,472.0C540.0,474.0 555.0,477.8 560.0,479.0" fill="none" stroke="#d9b83a" stroke-width="3"/>
<path d="M470.0,472.0C475.0,472.3 490.0,473.2 500.0,474.0C510.0,474.8 520.7,475.7 530.0,477.0C539.3,478.3 551.7,481.2 556.0,482.0" fill="none" stroke="#f0e4c0" stroke-width="2.2" opacity="0.9"/>
<ellipse cx="422.0" cy="483.6" rx="3.0" ry="5.4" fill="#5e300e"/>
<ellipse cx="430.3" cy="482.2" rx="2.6" ry="4.4" fill="#5e300e"/>
<ellipse cx="437.6" cy="483.6" rx="3.4" ry="5.2" fill="#5e300e"/>
<path d="M427.0,488.0C427.3,489.2 428.3,492.5 429.0,495.0C429.7,497.5 430.2,500.5 431.0,503.0C431.8,505.5 433.5,508.8 434.0,510.0" fill="none" stroke="#dcc030" stroke-width="4"/>
<circle cx="409.6" cy="461.4" r="2" fill="#7a4618"/>
<path d="M436.0,486.0C436.7,481.9 441.0,480.3 445.0,479.0C449.0,477.7 460.8,476.6 466.0,476.5C471.2,476.4 481.2,474.9 484.0,478.0C486.8,481.1 486.1,494.1 487.0,500.0C487.9,505.9 490.3,516.0 491.0,522.0C491.7,528.0 489.2,541.3 492.0,545.0C494.8,548.7 509.2,548.4 512.0,550.0C514.8,551.6 515.9,555.8 513.0,557.0C510.1,558.2 495.7,558.8 490.0,559.0C484.3,559.2 474.4,558.9 470.0,558.5C465.6,558.1 460.1,559.1 457.0,556.0C453.9,552.9 449.3,541.1 447.0,535.0C444.7,528.9 441.5,516.5 440.0,510.0C438.5,503.5 435.3,490.1 436.0,486.0Z" fill="#f1e4b8"/>
<path d="M438.0,492.0C438.5,495.0 439.7,503.7 441.0,510.0C442.3,516.3 444.2,523.7 446.0,530.0C447.8,536.3 451.0,545.0 452.0,548.0" fill="none" stroke="#e0b868" stroke-width="3.5" opacity="0.9"/>
<path d="M444.0,486.0C444.3,489.2 444.8,498.3 446.0,505.0C447.2,511.7 449.0,519.3 451.0,526.0C453.0,532.7 456.8,541.8 458.0,545.0" fill="none" stroke="#faf6e8" stroke-width="6" opacity="0.95"/>
<path d="M456.0,482.0C455.8,485.0 454.7,493.7 455.0,500.0C455.3,506.3 456.7,513.3 458.0,520.0C459.3,526.7 462.2,536.7 463.0,540.0" fill="none" stroke="#f0dca4" stroke-width="5" opacity="0.9"/>
<path d="M476.0,480.0C478.5,478.3 483.5,481.8 485.0,484.5C486.5,487.2 486.6,494.6 487.5,500.0C488.4,505.4 490.8,518.9 491.5,525.0C492.2,531.1 493.8,542.8 492.5,546.0C491.2,549.2 484.9,548.7 482.0,549.0C479.1,549.3 473.3,551.3 471.0,548.0C468.7,544.7 465.6,530.8 465.0,524.0C464.4,517.2 465.0,502.9 466.5,497.0C468.0,491.1 473.5,481.7 476.0,480.0Z" fill="#e3bd74"/>
<path d="M470.0,492.0 L480.0,488.0" fill="none" stroke="#f6eccc" stroke-width="1.6" opacity="0.85"/>
<path d="M469.0,500.0 L483.0,496.0" fill="none" stroke="#f6eccc" stroke-width="1.6" opacity="0.85"/>
<path d="M468.0,508.0 L485.0,505.0" fill="none" stroke="#f6eccc" stroke-width="1.6" opacity="0.85"/>
<path d="M468.0,516.0 L486.0,514.0" fill="none" stroke="#f6eccc" stroke-width="1.6" opacity="0.85"/>
<path d="M469.0,524.0 L487.0,523.0" fill="none" stroke="#f6eccc" stroke-width="1.6" opacity="0.85"/>
<path d="M470.0,532.0 L488.0,532.0" fill="none" stroke="#f6eccc" stroke-width="1.6" opacity="0.85"/>
<path d="M472.0,540.0 L489.0,541.0" fill="none" stroke="#f6eccc" stroke-width="1.6" opacity="0.85"/>
<path d="M480.0,486.0C479.7,489.2 477.8,498.5 478.0,505.0C478.2,511.5 480.0,518.5 481.0,525.0C482.0,531.5 483.5,540.8 484.0,544.0" fill="none" stroke="#c08c3c" stroke-width="1.2" opacity="0.8"/>
<path d="M476.5,479.5C474.8,482.2 468.0,488.7 466.0,496.0C464.0,503.3 463.7,514.8 464.4,523.5C465.1,532.2 469.1,544.3 470.0,548.5" fill="none" stroke="#6a4a1c" stroke-width="4.6"/>
<path d="M476.5,479.5C474.8,482.2 468.0,488.7 466.0,496.0C464.0,503.3 463.7,514.8 464.4,523.5C465.1,532.2 469.1,544.3 470.0,548.5" fill="none" stroke="#fbf8ee" stroke-width="2.8"/>
<path d="M451.0,512.0C451.2,513.8 451.8,519.3 452.5,523.0C453.2,526.7 454.6,532.2 455.0,534.0" fill="none" stroke="#8a7a22" stroke-width="2.6" stroke-linecap="round"/>
<path d="M451.0,511.0C451.8,511.2 454.3,511.7 456.0,512.5C457.7,513.3 460.2,515.4 461.0,516.0" fill="none" stroke="#8a7a22" stroke-width="1.8"/>
<path d="M491.0,525.0C495.5,522.0 509.2,527.5 520.0,528.0C530.8,528.5 549.3,526.0 556.0,528.0C562.7,530.0 562.7,536.0 560.0,540.0C557.3,544.0 548.0,550.0 540.0,552.0C532.0,554.0 519.8,553.0 512.0,552.0C504.2,551.0 496.5,550.5 493.0,546.0C489.5,541.5 486.5,528.0 491.0,525.0Z" fill="#b4602a"/>
<path d="M495.0,531.0C499.2,531.8 511.7,534.8 520.0,536.0C528.3,537.2 539.0,538.3 545.0,538.0C551.0,537.7 554.2,534.7 556.0,534.0" fill="none" stroke="#d8934e" stroke-width="2.5" opacity="0.8"/>
<path d="M457.4,542.7C458.3,544.1 460.7,548.8 463.0,551.0C465.3,553.2 466.6,555.2 471.1,556.0C475.6,556.8 483.1,556.2 490.0,555.5C496.9,554.8 508.5,552.2 512.2,551.5" fill="none" stroke="#6a4a1c" stroke-width="7"/>
<path d="M457.4,542.7C458.3,544.1 460.7,548.8 463.0,551.0C465.3,553.2 466.6,555.2 471.1,556.0C475.6,556.8 483.1,556.2 490.0,555.5C496.9,554.8 508.5,552.2 512.2,551.5" fill="none" stroke="#f6f0da" stroke-width="5"/>
<path d="M556.0,478.0C559.0,475.7 569.0,482.8 575.0,486.0C581.0,489.2 586.8,493.0 592.0,497.0C597.2,501.0 602.3,505.3 606.0,510.0C609.7,514.7 612.7,519.2 614.0,525.0C615.3,530.8 616.3,541.2 614.0,545.0C611.7,548.8 606.5,546.8 600.0,548.0C593.5,549.2 583.7,550.7 575.0,552.0C566.3,553.3 554.2,556.0 548.0,556.0C541.8,556.0 538.5,554.7 538.0,552.0C537.5,549.3 542.2,544.5 545.0,540.0C547.8,535.5 553.0,531.7 555.0,525.0C557.0,518.3 556.8,507.8 557.0,500.0C557.2,492.2 553.0,480.3 556.0,478.0Z" fill="#a8682e"/>
<path d="M565.2,503.5C567.2,502.0 568.2,506.2 570.0,509.0C571.8,511.8 574.3,515.8 576.0,520.0C577.7,524.2 579.7,529.7 580.0,534.0C580.3,538.3 580.0,543.0 578.0,546.0C576.0,549.0 571.7,550.8 568.0,552.0C564.3,553.2 559.3,553.5 556.0,553.0C552.7,552.5 548.5,552.0 548.0,549.0C547.5,546.0 551.3,540.2 553.0,535.0C554.7,529.8 556.0,523.2 558.0,518.0C560.0,512.8 563.2,505.0 565.2,503.5Z" fill="url(#gDark)"/>
<path d="M579.3,497.0C581.4,498.5 587.5,502.8 592.0,506.0C596.5,509.2 601.8,512.9 606.0,516.0C610.2,519.1 615.2,523.1 617.0,524.5" fill="none" stroke="#d6a444" stroke-width="9"/>
<path d="M582.0,494.0C584.2,495.5 590.5,499.9 595.0,503.0C599.5,506.1 606.7,510.9 609.0,512.5" fill="none" stroke="#ecc878" stroke-width="2.5" opacity="0.8"/>
<path d="M575.0,500.0C577.2,501.7 583.5,506.5 588.0,510.0C592.5,513.5 598.0,517.7 602.0,521.0C606.0,524.3 610.3,528.5 612.0,530.0" fill="none" stroke="#7a4216" stroke-width="1.4"/>
<path d="M562.0,505.0C561.3,507.5 559.0,515.0 558.0,520.0C557.0,525.0 557.7,530.3 556.0,535.0C554.3,539.7 549.3,545.8 548.0,548.0" fill="none" stroke="#e6cc90" stroke-width="3"/>
<path d="M556.0,480.0C557.0,481.7 560.3,486.7 562.0,490.0C563.7,493.3 565.3,498.3 566.0,500.0" fill="none" stroke="#f0e0b8" stroke-width="3.5"/>
<path d="M585.0,520.0C586.2,521.7 589.8,526.3 592.0,530.0C594.2,533.7 597.0,540.0 598.0,542.0" fill="none" stroke="#7a3e18" stroke-width="4" opacity="0.7"/>
<path d="M598.0,522.0C599.3,523.7 603.8,528.2 606.0,532.0C608.2,535.8 609.8,540.7 611.0,545.0C612.2,549.3 613.1,555.8 613.5,558.0" fill="none" stroke="#c89444" stroke-width="5" opacity="0.9"/>
<path d="M560.0,470.0C562.5,471.0 570.0,474.0 575.0,476.0C580.0,478.0 586.5,479.7 590.0,482.0C593.5,484.3 595.0,488.7 596.0,490.0" fill="none" stroke="#e4bc6c" stroke-width="6"/>
<path d="M484.8,485.0C485.3,481.9 486.8,479.7 489.3,478.4C491.8,477.1 494.9,477.4 500.0,477.2C505.1,477.0 512.4,476.6 520.0,477.0C527.6,477.4 540.3,478.1 545.6,479.3C550.9,480.5 550.4,480.1 552.0,484.0C553.6,487.9 554.5,497.6 555.0,502.8C555.5,508.0 555.4,511.6 555.0,515.0C554.6,518.4 555.1,521.2 552.6,523.0C550.1,524.8 545.1,525.5 540.0,526.0C534.9,526.5 528.8,526.1 522.1,526.0C515.4,525.9 504.9,526.0 500.0,525.5C495.1,525.0 494.8,525.6 493.0,523.0C491.2,520.4 490.1,514.4 489.0,510.0C487.9,505.6 486.9,501.1 486.2,496.9C485.5,492.7 484.3,488.1 484.8,485.0Z" fill="url(#gRed)" stroke="#7e2e10" stroke-width="1.4"/>
<path d="M490.0,488.0C495.0,487.7 510.0,485.8 520.0,486.0C530.0,486.2 545.0,488.5 550.0,489.0" fill="none" stroke="#e08654" stroke-width="2.5" opacity="0.55"/>
<path d="M494.0,526.0C498.7,525.6 510.7,528.3 520.0,528.5C529.3,528.7 544.5,526.2 550.0,527.0C555.5,527.8 556.3,531.5 553.0,533.0C549.7,534.5 538.8,535.7 530.0,536.0C521.2,536.3 506.3,535.8 500.0,535.0C493.7,534.2 493.0,532.5 492.0,531.0C491.0,529.5 489.3,526.4 494.0,526.0Z" fill="#b04a24"/>
<path d="M445.0,556.0C445.7,559.0 446.8,568.3 449.0,574.0C451.2,579.7 456.5,587.3 458.0,590.0" fill="none" stroke="#f0d898" stroke-width="6" opacity="0.55"/>
<path d="M461.5,572.0C461.3,568.8 462.2,564.4 464.0,562.0C465.8,559.6 467.7,558.4 472.0,557.5C476.3,556.6 483.2,556.8 490.0,556.5C496.8,556.2 506.3,556.6 513.0,556.0C519.7,555.4 524.2,553.8 530.0,553.0C535.8,552.2 541.3,551.8 548.0,551.0C554.7,550.2 563.0,549.3 570.0,548.0C577.0,546.7 584.0,544.2 590.0,543.0C596.0,541.8 602.2,540.2 606.0,541.0C609.8,541.8 611.7,544.5 613.0,548.0C614.3,551.5 614.5,558.0 614.0,562.0C613.5,566.0 612.3,569.0 610.0,572.0C607.7,575.0 604.2,577.8 600.0,580.0C595.8,582.2 591.7,584.1 585.0,585.5C578.3,586.9 568.5,587.8 560.0,588.5C551.5,589.2 544.0,589.8 533.8,590.0C523.6,590.2 508.5,590.4 498.7,590.0C488.9,589.6 480.6,588.9 475.0,587.5C469.4,586.1 467.2,584.1 465.0,581.5C462.8,578.9 461.7,575.2 461.5,572.0Z" fill="url(#gWin)"/>
<rect x="466.4" y="561.5" width="8.8" height="22.5" rx="4.0" ry="7.3" fill="url(#gRoot)" stroke="#7a5040" stroke-width="0.5" transform="rotate(0 470.8 572.8)"/>
<rect x="475.5" y="561.0" width="8.8" height="25.5" rx="4.0" ry="7.3" fill="url(#gRoot)" stroke="#7a5040" stroke-width="0.5" transform="rotate(0 479.9 573.8)"/>
<rect x="485.4" y="560.0" width="9.4" height="27.0" rx="4.3" ry="7.8" fill="url(#gRoot)" stroke="#7a5040" stroke-width="0.5" transform="rotate(0 490.1 573.5)"/>
<rect x="496.7" y="559.0" width="9.8" height="29.5" rx="4.5" ry="8.2" fill="url(#gRoot)" stroke="#7a5040" stroke-width="0.5" transform="rotate(2 501.6 573.8)"/>
<rect x="510.8" y="556.5" width="9.6" height="31.0" rx="4.4" ry="8.0" fill="url(#gRoot)" stroke="#7a5040" stroke-width="0.5" transform="rotate(0 515.6 572.0)"/>
<rect x="523.1" y="555.5" width="10.2" height="33.0" rx="4.6" ry="8.5" fill="url(#gRoot)" stroke="#7a5040" stroke-width="0.5" transform="rotate(3 528.2 572.0)"/>
<rect x="541.7" y="557.6" width="9.4" height="27.4" rx="4.3" ry="7.8" fill="url(#gRoot)" stroke="#7a5040" stroke-width="0.5" transform="rotate(-2 546.4 571.3)"/>
<rect x="555.4" y="555.0" width="8.4" height="26.5" rx="3.8" ry="7.0" fill="url(#gRoot)" stroke="#7a5040" stroke-width="0.5" transform="rotate(-8 559.6 568.2)"/>
<rect x="565.9" y="552.0" width="8.2" height="26.0" rx="3.7" ry="6.8" fill="url(#gRootB)" stroke="#7a5040" stroke-width="0.5" transform="rotate(-12 570.0 565.0)"/>
<rect x="576.0" y="551.0" width="8.4" height="25.3" rx="3.8" ry="7.0" fill="url(#gRoot)" stroke="#7a5040" stroke-width="0.5" transform="rotate(-14 580.2 563.6)"/>
<rect x="587.4" y="545.0" width="8.0" height="26.0" rx="3.6" ry="6.7" fill="url(#gRootB)" stroke="#7a5040" stroke-width="0.5" transform="rotate(-18 591.4 558.0)"/>
<rect x="598.7" y="543.5" width="7.6" height="21.5" rx="3.5" ry="6.3" fill="url(#gRootB)" stroke="#7a5040" stroke-width="0.5" transform="rotate(-20 602.5 554.2)"/>
<path d="M536.0,552.0C538.3,550.0 545.5,549.2 552.0,548.0C558.5,546.8 567.3,546.3 575.0,545.0C582.7,543.7 592.2,540.3 598.0,540.0C603.8,539.7 608.7,541.0 610.0,543.0C611.3,545.0 609.3,550.2 606.0,552.0C602.7,553.8 596.0,553.2 590.0,554.0C584.0,554.8 576.7,556.0 570.0,557.0C563.3,558.0 555.3,559.5 550.0,560.0C544.7,560.5 540.3,561.3 538.0,560.0C535.7,558.7 533.7,554.0 536.0,552.0Z" fill="#8a4a22" opacity="0.55"/>
<path d="M443.5,580.0C446.2,580.2 450.6,586.8 455.0,589.0C459.4,591.2 462.7,591.8 470.0,593.0C477.3,594.2 488.1,595.5 498.7,596.0C509.3,596.5 523.6,596.3 533.8,596.0C544.0,595.7 551.5,594.8 560.0,594.0C568.5,593.2 577.5,592.8 585.0,591.5C592.5,590.2 599.5,588.2 605.0,586.0C610.5,583.8 615.2,578.5 618.0,578.0C620.8,577.5 622.3,581.7 622.0,583.0C621.7,584.3 618.6,584.4 616.0,586.0C613.4,587.6 612.7,589.9 606.2,592.5C599.7,595.1 584.6,599.7 576.9,601.5C569.2,603.3 566.2,602.6 560.0,603.3C553.8,604.0 548.0,605.1 539.7,605.7C531.4,606.3 520.2,606.8 510.4,606.8C500.6,606.8 489.9,606.5 481.1,605.7C472.3,604.9 463.3,603.6 457.6,602.1C451.9,600.6 450.1,599.4 447.0,597.0C443.9,594.6 439.6,590.8 439.0,588.0C438.4,585.2 440.8,579.8 443.5,580.0Z" fill="url(#gAlv)"/>
<path d="M535.0,590.0C539.2,589.8 551.7,589.3 560.0,588.5C568.3,587.7 578.3,586.7 585.0,585.0C591.7,583.3 595.7,581.3 600.0,578.5C604.3,575.7 608.4,571.2 611.0,568.0C613.6,564.8 614.8,560.5 615.5,559.0" fill="none" stroke="#d9a040" stroke-width="7"/>
<path d="M535.0,587.5C539.2,587.2 551.8,586.8 560.0,586.0C568.2,585.2 577.7,584.2 584.0,582.5C590.3,580.8 594.0,578.8 598.0,576.0C602.0,573.2 606.3,567.7 608.0,566.0" fill="none" stroke="#f0d9a4" stroke-width="1.8" opacity="0.9"/>
<path d="M461.5,572.0C462.1,573.6 462.8,578.9 465.0,581.5C467.2,584.1 469.4,586.1 475.0,587.5C480.6,588.9 488.9,589.6 498.7,590.0C508.5,590.4 525.6,590.2 533.8,590.0C542.0,589.8 545.6,589.2 548.0,589.0" fill="none" stroke="#54300e" stroke-width="1.6"/>
<path d="M461.5,572.0C461.9,570.3 462.2,564.4 464.0,562.0C465.8,559.6 467.7,558.4 472.0,557.5C476.3,556.6 483.2,556.8 490.0,556.5C496.8,556.2 509.2,556.1 513.0,556.0" fill="none" stroke="#4a280c" stroke-width="2.2"/>
<path d="M470.0,594.0C475.0,594.6 490.0,596.9 500.0,597.5C510.0,598.1 520.0,597.8 530.0,597.5C540.0,597.2 555.0,595.8 560.0,595.5" fill="none" stroke="#ecc87c" stroke-width="2.2" opacity="0.8"/>
</g>
<path d="M458.0,602.5C459.9,601.0 464.5,600.9 468.0,601.0C471.5,601.1 476.9,601.2 479.0,603.0C481.1,604.8 480.5,608.8 480.5,612.0C480.5,615.2 480.2,619.7 479.0,622.0C477.8,624.3 474.8,625.7 473.0,626.0C471.2,626.3 469.8,624.1 468.0,624.0C466.2,623.9 463.8,626.2 462.0,625.5C460.2,624.8 458.4,622.6 457.5,620.0C456.6,617.4 456.4,612.9 456.5,610.0C456.6,607.1 456.1,604.0 458.0,602.5Z" fill="url(#gCrown)" stroke="#5e5048" stroke-width="1.4"/>
<path d="M482.5,606.0C484.8,604.6 491.0,604.5 495.0,604.5C499.0,604.5 504.3,604.1 506.5,606.0C508.7,607.9 508.1,612.7 508.0,616.0C507.9,619.3 507.5,623.8 506.0,626.0C504.5,628.2 501.2,629.3 499.0,629.5C496.8,629.7 495.0,627.1 493.0,627.0C491.0,626.9 488.8,629.7 487.0,629.0C485.2,628.3 483.0,625.7 482.0,623.0C481.0,620.3 480.9,615.8 481.0,613.0C481.1,610.2 480.2,607.4 482.5,606.0Z" fill="url(#gCrown)" stroke="#5e5048" stroke-width="1.4"/>
<path d="M511.0,607.0C513.2,605.7 519.0,605.9 523.0,606.0C527.0,606.1 532.8,605.7 535.0,607.5C537.2,609.3 536.7,613.9 536.5,617.0C536.3,620.1 535.4,624.1 534.0,626.0C532.6,627.9 529.8,628.5 528.0,628.5C526.2,628.5 524.8,626.1 523.0,626.0C521.2,625.9 518.9,628.5 517.0,628.0C515.1,627.5 512.7,625.3 511.5,623.0C510.3,620.7 510.1,616.7 510.0,614.0C509.9,611.3 508.8,608.3 511.0,607.0Z" fill="url(#gCrown)" stroke="#5e5048" stroke-width="1.4"/>
<path d="M539.0,606.0C540.6,604.3 545.1,605.0 548.0,605.0C550.9,605.0 554.9,604.2 556.5,606.0C558.1,607.8 557.8,612.8 557.5,616.0C557.2,619.2 556.6,623.1 555.0,625.0C553.4,626.9 550.2,627.5 548.0,627.5C545.8,627.5 543.1,627.1 541.5,625.0C539.9,622.9 538.9,618.2 538.5,615.0C538.1,611.8 537.4,607.7 539.0,606.0Z" fill="url(#gCrownB)" stroke="#5e5048" stroke-width="1.4"/>
<path d="M559.5,604.5C561.0,602.8 565.2,603.1 568.0,603.0C570.8,602.9 574.4,602.2 576.0,604.0C577.6,605.8 577.7,610.8 577.5,614.0C577.3,617.2 576.6,621.5 575.0,623.5C573.4,625.5 570.2,626.1 568.0,626.0C565.8,625.9 563.0,625.2 561.5,623.0C560.0,620.8 559.3,616.1 559.0,613.0C558.7,609.9 558.0,606.2 559.5,604.5Z" fill="url(#gCrownL)" stroke="#5e5048" stroke-width="1.4"/>
<path d="M461.0,623.5 Q468.5,626.5 476.0,623.5" fill="none" stroke="#5a4a44" stroke-width="1.6" opacity="0.7"/>
<path d="M485.0,627.0 Q494.0,630.0 503.0,627.0" fill="none" stroke="#5a4a44" stroke-width="1.6" opacity="0.7"/>
<path d="M514.0,626.0 Q523.0,629.0 532.0,626.0" fill="none" stroke="#5a4a44" stroke-width="1.6" opacity="0.7"/>
<path d="M542.0,625.0 Q548.0,628.0 554.0,625.0" fill="none" stroke="#5a4a44" stroke-width="1.6" opacity="0.7"/>
<path d="M562.5,623.5 Q568.2,626.5 574.0,623.5" fill="none" stroke="#5a4a44" stroke-width="1.6" opacity="0.7"/>
<path d="M579.0,601.0C580.3,599.0 584.2,597.5 587.0,597.0C589.8,596.5 593.8,596.3 596.0,598.0C598.2,599.7 599.5,603.7 600.0,607.0C600.5,610.3 600.0,615.0 599.0,618.0C598.0,621.0 596.0,623.9 594.0,625.0C592.0,626.1 589.1,625.7 587.0,624.5C584.9,623.3 582.8,620.6 581.5,618.0C580.2,615.4 579.4,611.8 579.0,609.0C578.6,606.2 577.7,603.0 579.0,601.0Z" fill="url(#gPCrown)" stroke="#5e4068" stroke-width="1.1"/>
<path d="M599.0,594.0C600.2,591.7 603.5,589.8 606.0,589.0C608.5,588.2 612.0,588.0 614.0,589.5C616.0,591.0 617.4,594.6 618.0,598.0C618.6,601.4 618.3,606.5 617.5,610.0C616.7,613.5 614.9,617.4 613.0,619.0C611.1,620.6 608.0,620.7 606.0,619.5C604.0,618.3 602.2,614.8 601.0,612.0C599.8,609.2 599.3,606.0 599.0,603.0C598.7,600.0 597.8,596.3 599.0,594.0Z" fill="url(#gPCrown)" stroke="#5e4068" stroke-width="1.1"/>
<path d="M616.0,586.0C616.6,583.5 619.5,582.2 621.0,582.0C622.5,581.8 624.1,583.0 625.0,585.0C625.9,587.0 626.4,590.7 626.5,594.0C626.6,597.3 626.2,602.1 625.5,605.0C624.8,607.9 623.2,611.0 622.0,611.5C620.8,612.0 619.2,610.4 618.5,608.0C617.8,605.6 617.9,600.7 617.5,597.0C617.1,593.3 615.4,588.5 616.0,586.0Z" fill="url(#gPCrown)" stroke="#5e4068" stroke-width="1.1"/>
<path d="M609.9,419.7C611.5,419.4 613.1,423.7 616.0,428.0C618.9,432.3 623.8,440.9 627.0,445.7C630.2,450.5 632.5,453.2 635.2,457.0C637.9,460.8 640.0,464.4 643.3,468.5C646.5,472.6 652.1,478.1 654.7,481.5C657.3,484.9 658.1,486.4 659.0,489.0C659.9,491.6 660.1,493.4 659.8,497.0C659.5,500.6 658.5,507.5 657.1,510.9C655.7,514.3 653.8,516.2 651.4,517.4C649.0,518.6 645.7,518.0 643.0,518.0C640.3,518.0 637.8,517.5 635.1,517.6C632.4,517.7 629.7,518.2 627.0,518.5C624.3,518.8 621.7,519.9 618.9,519.5C616.1,519.1 613.0,518.2 610.0,516.0C607.0,513.8 603.4,509.7 601.0,506.0C598.6,502.3 596.6,497.7 595.5,494.0C594.4,490.3 594.4,487.2 594.2,484.0C594.0,480.8 593.8,479.2 594.4,475.0C595.0,470.8 596.3,464.4 597.7,458.7C599.1,453.0 601.1,445.6 602.6,440.8C604.1,436.0 605.3,433.5 606.5,430.0C607.7,426.5 608.3,420.0 609.9,419.7Z" fill="url(#gNose)" stroke="#40308a" stroke-width="1.8"/>
<path d="M612.0,425.0C613.7,428.3 618.3,438.8 622.0,445.0C625.7,451.2 630.0,456.5 634.0,462.0C638.0,467.5 644.0,475.3 646.0,478.0" fill="none" stroke="#e6def8" stroke-width="3.5" opacity="0.8"/>
<path d="M604.0,450.0C603.3,453.3 600.3,463.7 600.0,470.0C599.7,476.3 601.7,485.0 602.0,488.0" fill="none" stroke="#8a78cc" stroke-width="3" opacity="0.7"/>
<path d="M613.0,455.0C613.8,456.7 615.8,461.2 618.0,465.0C620.2,468.8 623.3,474.2 626.0,478.0C628.7,481.8 632.7,486.3 634.0,488.0" fill="none" stroke="#c8a860" stroke-width="1.5" opacity="0.8"/>
<path d="M597.0,492.0C597.8,490.2 600.5,489.5 603.0,489.5C605.5,489.5 609.2,490.9 612.0,492.0C614.8,493.1 617.3,495.9 620.0,496.0C622.7,496.1 625.3,492.8 628.0,492.5C630.7,492.2 634.0,492.8 636.0,494.0C638.0,495.2 639.5,497.7 640.0,500.0C640.5,502.3 640.0,505.7 639.0,508.0C638.0,510.3 636.8,512.6 634.0,514.0C631.2,515.4 626.0,516.2 622.0,516.5C618.0,516.8 613.3,517.2 610.0,516.0C606.7,514.8 604.0,511.7 602.0,509.0C600.0,506.3 598.8,502.8 598.0,500.0C597.2,497.2 596.2,493.8 597.0,492.0Z" fill="url(#gFatY)" stroke="#5e3410" stroke-width="1.3"/>
<path d="M600.0,500.0C601.7,500.5 606.7,501.8 610.0,503.0C613.3,504.2 616.3,505.7 620.0,507.0C623.7,508.3 630.0,510.3 632.0,511.0" fill="none" stroke="#7a4a14" stroke-width="1.0"/>
<path d="M622.0,518.0C624.2,517.3 631.2,515.1 635.0,514.0C638.8,512.9 643.3,511.9 645.0,511.5" fill="none" stroke="#5a40a8" stroke-width="3.2"/>
<path d="M603.0,441.0C604.5,442.8 608.5,448.5 612.0,452.0C615.5,455.5 620.0,459.0 624.0,462.0C628.0,465.0 632.3,468.0 636.0,470.0C639.7,472.0 644.3,473.3 646.0,474.0" fill="none" stroke="#4a3a88" stroke-width="1.3" opacity="0.85"/>
<path d="M611.0,476.0C612.2,477.3 615.5,481.5 618.0,484.0C620.5,486.5 624.7,489.8 626.0,491.0" fill="none" stroke="#5a48a0" stroke-width="1.2" opacity="0.8"/>
<path d="M611.0,450.0C612.0,450.5 615.0,451.8 617.0,453.0C619.0,454.2 622.0,456.3 623.0,457.0" fill="none" stroke="#d8c070" stroke-width="3" opacity="0.8"/>
<path d="M598.0,462.0C597.7,464.7 596.0,473.3 596.0,478.0C596.0,482.7 597.7,488.0 598.0,490.0" fill="none" stroke="#7666c0" stroke-width="2.5" opacity="0.6"/>
<circle cx="604.0" cy="498.0" r="1.7" fill="#f2d670" opacity="0.8"/>
<circle cx="610.0" cy="500.0" r="1.7" fill="#f2d670" opacity="0.8"/>
<circle cx="616.0" cy="503.0" r="1.7" fill="#f2d670" opacity="0.8"/>
<circle cx="622.0" cy="501.0" r="1.7" fill="#f2d670" opacity="0.8"/>
<circle cx="628.0" cy="500.0" r="1.7" fill="#f2d670" opacity="0.8"/>
<circle cx="634.0" cy="503.0" r="1.7" fill="#f2d670" opacity="0.8"/>
<circle cx="606.0" cy="506.0" r="1.7" fill="#f2d670" opacity="0.8"/>
<circle cx="613.0" cy="509.0" r="1.7" fill="#f2d670" opacity="0.8"/>
<circle cx="620.0" cy="511.0" r="1.7" fill="#f2d670" opacity="0.8"/>
<circle cx="628.0" cy="509.0" r="1.7" fill="#f2d670" opacity="0.8"/>
<path d="M535.4,286.6L576.7,286.6L577.2,299.5L579.2,312.3L583.1,322.0L584.8,334.7L584.1,346.5L581.7,355.0L577.8,363.8L578.5,374.0L589.5,391.2L600.0,400.6L610.2,419.4L606.0,437.0L598.0,459.0L594.0,478.0L597.0,492.0L603.0,505.0L612.0,515.0L620.0,520.0L616.9,527.1L614.9,537.8L616.4,553.5L620.3,569.1L622.1,581.9L616.0,584.0L606.2,591.0L576.9,600.5L560.0,602.3L539.7,604.7L510.4,605.8L481.1,604.7L457.2,601.3L448.4,597.3L440.6,589.5L438.7,587.0L438.6,570.0L437.4,550.4L432.7,526.9L430.4,497.6L424.0,486.0L405.0,478.0L386.0,470.0L372.0,452.0L360.0,450.6L374.7,442.8L394.2,425.2L398.1,419.3L394.1,412.7L403.5,403.3L426.9,385.7L450.4,369.3L473.8,352.9L500.0,339.6L514.7,333.3L528.3,327.9L533.7,323.0L536.0,314.2L536.2,299.5Z" fill="none" stroke="#6a4614" stroke-width="1.2" stroke-linejoin="round"/>
<path d="M296.7,468.0C295.5,465.3 296.2,463.2 297.5,461.0C298.8,458.8 302.6,455.3 304.6,454.6C306.6,453.9 306.5,455.5 309.4,456.6C312.3,457.8 318.4,461.8 322.1,461.5C325.9,461.2 328.3,456.1 331.9,454.6C335.5,453.1 339.1,453.0 343.7,452.7C348.3,452.4 355.2,453.3 359.3,452.7C363.4,452.1 364.9,449.9 368.0,449.0C371.1,448.1 374.7,445.8 378.0,447.0C381.3,448.2 385.7,452.8 388.0,456.0C390.3,459.2 391.7,462.7 392.0,466.0C392.3,469.3 391.8,473.0 390.0,476.0C388.2,479.0 384.0,481.7 381.0,484.0C378.0,486.3 375.4,488.5 372.0,490.0C368.6,491.5 363.1,491.7 360.3,493.0C357.5,494.3 357.8,496.4 355.4,497.8C352.9,499.2 349.2,501.1 345.6,501.7C342.0,502.3 337.5,502.0 333.9,501.2C330.3,500.4 326.9,499.3 324.1,496.8C321.3,494.3 319.6,488.9 317.3,486.1C315.0,483.3 312.5,481.7 310.4,480.2C308.3,478.7 306.9,479.3 304.6,477.3C302.3,475.3 297.9,470.7 296.7,468.0Z" fill="url(#gGang)" stroke="#8f7e1c" stroke-width="1.0"/>
<path d="M367.3,428.5 Q368.5,438 369.5,446" fill="none" stroke="#ac9c3e" stroke-width="2.8" stroke-linecap="round"/>
<path d="M354.4,466 Q364,463.5 373,461.6" fill="none" stroke="#54480e" stroke-width="2.8" stroke-linecap="round"/>
<path d="M317.0,487.0C318.2,488.7 321.2,494.6 324.0,497.0C326.8,499.4 330.3,500.7 334.0,501.5C337.7,502.3 344.0,501.9 346.0,502.0" fill="none" stroke="#8a7a20" stroke-width="1.2"/>
</g>
<g filter="url(#lsoft)">
<path d="M668.4,400.5L431.6,394.5" fill="none" stroke="#4c4c4c" stroke-width="1.5" stroke-linejoin="round"/>
<path d="M668.4,426.8L417.5,422.7" fill="none" stroke="#4c4c4c" stroke-width="1.5" stroke-linejoin="round"/>
<path d="M668.4,450.9L408.3,435.8" fill="none" stroke="#4c4c4c" stroke-width="1.5" stroke-linejoin="round"/>
<path d="M668.0,476.0L442.3,461.1" fill="none" stroke="#4c4c4c" stroke-width="1.5" stroke-linejoin="round"/>
<path d="M668.0,500.5L470.7,469.4" fill="none" stroke="#4c4c4c" stroke-width="1.5" stroke-linejoin="round"/>
<path d="M667.6,523.4L521.5,471.7" fill="none" stroke="#4c4c4c" stroke-width="1.5" stroke-linejoin="round"/>
<path d="M667.6,551.1L496.9,518.6" fill="none" stroke="#4c4c4c" stroke-width="1.5" stroke-linejoin="round"/>
<path d="M667.6,576.1L451.1,504.9" fill="none" stroke="#4c4c4c" stroke-width="1.5" stroke-linejoin="round"/>
<path d="M667.6,601.6L460.0,558.6L428.6,493.5" fill="none" stroke="#4c4c4c" stroke-width="1.5" stroke-linejoin="round"/>
<path d="M292.3,405.8L369.3,455.8" fill="none" stroke="#4c4c4c" stroke-width="1.5" stroke-linejoin="round"/>
<path d="M292.3,448.3L305.7,462.9" fill="none" stroke="#4c4c4c" stroke-width="1.5" stroke-linejoin="round"/>
<path d="M292.3,474.8L328.5,476.1" fill="none" stroke="#4c4c4c" stroke-width="1.5" stroke-linejoin="round"/>
<path d="M292.3,499.3L324.1,491.9L358.3,484.1L416.4,470.6" fill="none" stroke="#4c4c4c" stroke-width="1.5" stroke-linejoin="round"/>
<path d="M358.3,484.1L372.8,471.6" fill="none" stroke="#4c4c4c" stroke-width="1.5" stroke-linejoin="round"/>
<path d="M292.8,531.1L364.7,513.7" fill="none" stroke="#4c4c4c" stroke-width="1.5" stroke-linejoin="round"/>
<g clip-path="url(#clipInk)">
<path d="M668.4,400.5L431.6,394.5" fill="none" stroke="#30281a" stroke-width="1.5" stroke-linejoin="round"/>
<path d="M668.4,426.8L417.5,422.7" fill="none" stroke="#30281a" stroke-width="1.5" stroke-linejoin="round"/>
<path d="M668.4,450.9L408.3,435.8" fill="none" stroke="#30281a" stroke-width="1.5" stroke-linejoin="round"/>
<path d="M668.0,476.0L442.3,461.1" fill="none" stroke="#30281a" stroke-width="1.5" stroke-linejoin="round"/>
<path d="M668.0,500.5L470.7,469.4" fill="none" stroke="#30281a" stroke-width="1.5" stroke-linejoin="round"/>
<path d="M667.6,523.4L521.5,471.7" fill="none" stroke="#30281a" stroke-width="1.5" stroke-linejoin="round"/>
<path d="M667.6,551.1L496.9,518.6" fill="none" stroke="#30281a" stroke-width="1.5" stroke-linejoin="round"/>
<path d="M667.6,576.1L451.1,504.9" fill="none" stroke="#30281a" stroke-width="1.5" stroke-linejoin="round"/>
<path d="M667.6,601.6L460.0,558.6L428.6,493.5" fill="none" stroke="#30281a" stroke-width="1.5" stroke-linejoin="round"/>
<path d="M292.3,405.8L369.3,455.8" fill="none" stroke="#30281a" stroke-width="1.5" stroke-linejoin="round"/>
<path d="M292.3,448.3L305.7,462.9" fill="none" stroke="#30281a" stroke-width="1.5" stroke-linejoin="round"/>
<path d="M292.3,474.8L328.5,476.1" fill="none" stroke="#30281a" stroke-width="1.5" stroke-linejoin="round"/>
<path d="M292.3,499.3L324.1,491.9L358.3,484.1L416.4,470.6" fill="none" stroke="#30281a" stroke-width="1.5" stroke-linejoin="round"/>
<path d="M358.3,484.1L372.8,471.6" fill="none" stroke="#30281a" stroke-width="1.5" stroke-linejoin="round"/>
<path d="M292.8,531.1L364.7,513.7" fill="none" stroke="#30281a" stroke-width="1.5" stroke-linejoin="round"/>
</g>
<circle cx="431.6" cy="394.5" r="1.9" fill="#2a1a08"/>
<circle cx="417.5" cy="422.7" r="1.9" fill="#2a1a08"/>
<circle cx="408.3" cy="435.8" r="1.9" fill="#2a1a08"/>
<circle cx="442.3" cy="461.1" r="1.9" fill="#2a1a08"/>
<circle cx="470.7" cy="469.4" r="1.9" fill="#2a1a08"/>
<circle cx="521.5" cy="471.7" r="1.9" fill="#2a1a08"/>
<circle cx="496.9" cy="518.6" r="1.9" fill="#2a1a08"/>
<circle cx="451.1" cy="504.9" r="1.9" fill="#2a1a08"/>
<circle cx="428.6" cy="493.5" r="1.9" fill="#2a1a08"/>
<circle cx="369.3" cy="455.8" r="1.9" fill="#2a1a08"/>
<circle cx="305.7" cy="462.9" r="1.9" fill="#2a1a08"/>
<circle cx="328.5" cy="476.1" r="1.9" fill="#2a1a08"/>
<circle cx="416.4" cy="470.6" r="1.9" fill="#2a1a08"/>
<circle cx="372.8" cy="471.6" r="1.9" fill="#2a1a08"/>
<circle cx="364.7" cy="513.7" r="1.9" fill="#2a1a08"/>
<circle cx="564.1" cy="488.0" r="1.9" fill="#2a1a08"/>
</g>
<g filter="url(#tsoft)">
<text x="206.3" y="393.2" textLength="84.0" lengthAdjust="spacingAndGlyphs">Глазничный</text>
<text x="257.6" y="410.1" textLength="32.7" lengthAdjust="spacingAndGlyphs">нерв</text>
<text x="205.4" y="434.1" textLength="84.9" lengthAdjust="spacingAndGlyphs">Тройничный</text>
<text x="257.6" y="451.4" textLength="32.7" lengthAdjust="spacingAndGlyphs">нерв</text>
<text x="167.4" y="472.1" textLength="122.9" lengthAdjust="spacingAndGlyphs">Узел тройничного</text>
<text x="248.4" y="489.8" textLength="41.9" lengthAdjust="spacingAndGlyphs">нерва</text>
<text x="165.4" y="508.8" textLength="124.9" lengthAdjust="spacingAndGlyphs">Верхнечелюстной</text>
<text x="257.6" y="526.0" textLength="32.7" lengthAdjust="spacingAndGlyphs">нерв</text>
<text x="170.4" y="543.8" textLength="119.9" lengthAdjust="spacingAndGlyphs">Нижнечелюстной</text>
<text x="257.6" y="561.7" textLength="32.7" lengthAdjust="spacingAndGlyphs">нерв</text>
<text x="670.8" y="410.0" textLength="92.1" lengthAdjust="spacingAndGlyphs">Лобный нерв</text>
<text x="671.1" y="433.8" textLength="99.7" lengthAdjust="spacingAndGlyphs">Слезный нерв</text>
<text x="671.1" y="457.7" textLength="155.2" lengthAdjust="spacingAndGlyphs">Носо-ресничный нерв</text>
<text x="671.1" y="481.5" textLength="104.4" lengthAdjust="spacingAndGlyphs">Скуловой нерв</text>
<text x="671.5" y="507.2" textLength="146.5" lengthAdjust="spacingAndGlyphs">Подглазничный нерв</text>
<text x="671.5" y="531.0" textLength="254.1" lengthAdjust="spacingAndGlyphs">Передне-верхний альвеолярный нерв</text>
<text x="671.1" y="557.0" textLength="254.4" lengthAdjust="spacingAndGlyphs">Средне-верхний альвеолярный нерв</text>
<text x="671.1" y="581.8" textLength="249.8" lengthAdjust="spacingAndGlyphs">Задне-верхний альвеолярный нерв</text>
<text x="671.1" y="609.5" textLength="134.1" lengthAdjust="spacingAndGlyphs">Крылонёбный узел</text>
</g>
</g>
</svg>
</div>
</body>
</html>
